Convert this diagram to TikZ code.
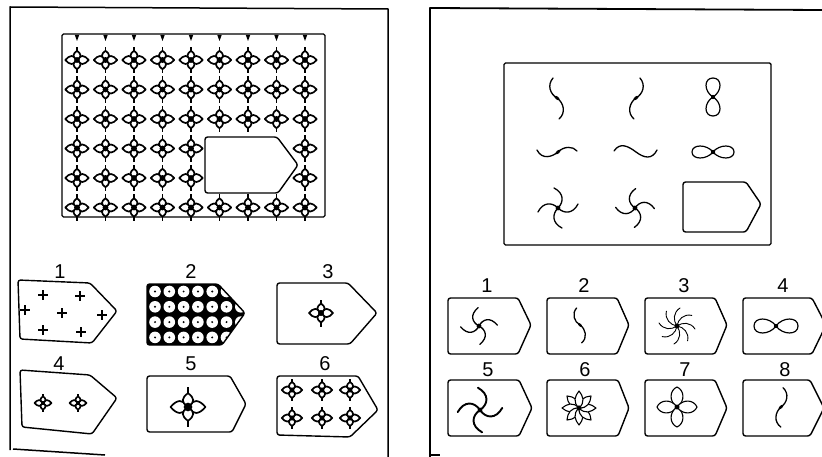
\documentclass[tikz,border=0pt]{standalone}
\usepackage{fontspec}
\setmainfont{Liberation Sans}
\newcommand\fstar[3]{%
\begin{scope}[shift={(#1,#2)},scale=#3]
 \foreach \a in {0,180}{\draw[sln,fill=white,rotate=\a] (0.5,0) .. controls (3,6) and (8,5) .. (12,0) .. controls (8,-5) and (3,-6) .. (0.5,0);}
 \foreach \a in {90,270}{\draw[sln,fill=white,rotate=\a] (0.5,0) .. controls (3,5.2) and (6.5,4.4) .. (9.5,0) .. controls (6.5,-4.4) and (3,-5.2) .. (0.5,0); \draw[line width=1.1pt,rotate=\a] (9.5,0) -- (13.5,0);}
 \fill (0,0) circle (3);
\end{scope}}
% x y n L bulge end rot lw
\newcommand\pinwheel[8]{%
\begin{scope}[shift={(#1,#2)},rotate=#7]
 \foreach \k in {1,...,#3}{\draw[line width=#8,line cap=round,rotate=\k*360/#3] (0,0) .. controls (0.3*#4,#5) and (0.75*#4,#5) .. (#4,#6);}
 \fill (0,0) circle (2.4);
\end{scope}}
% x y xscale scale rotate
\newcommand\scurve[5]{%
\begin{scope}[shift={(#1,#2)},rotate=#5,scale=#4,xscale=#3]
 \draw[line width=1.3pt,line cap=round] (-4,-20) .. controls (-10,-13) and (-7,-4) .. (0,0) .. controls (7,5) and (9,15) .. (2,21);
 \fill[rotate=-38] (0,0) ellipse (3 and 1.5);
\end{scope}}
% x y L h rot
\newcommand\lemn[5]{%
\begin{scope}[shift={(#1,#2)},rotate=#5]
 \foreach \s in {1,-1}{\draw[line width=1.2pt,xscale=\s] (0,0) .. controls (0.3*#3,-1.33*#4) and (#3,-1.33*#4) .. (#3,0) .. controls (#3,1.33*#4) and (0.3*#3,1.33*#4) .. (0,0);}
 \fill (0,0) circle (2.2);
\end{scope}}
% x y n L h rot
\newcommand\flower[6]{%
\begin{scope}[shift={(#1,#2)},rotate=#6]
 \foreach \k in {1,...,#3}{\draw[line width=1.1pt,fill=white,rotate=\k*360/#3] (0,0) .. controls (0.3*#4,-1.33*#5) and (0.85*#4,-1.1*#5) .. (#4,0) .. controls (0.85*#4,1.1*#5) and (0.3*#4,1.33*#5) .. (0,0);}
 \fill (0,0) circle (2.5);
\end{scope}}
% x y n L h rot : pointed petals
\newcommand\pflower[6]{%
\begin{scope}[shift={(#1,#2)},rotate=#6]
 \foreach \k in {1,...,#3}{\draw[line width=1.1pt,line join=round,fill=white,rotate=\k*360/#3] (0,0) .. controls (0.35*#4,-1.4*#5) and (0.7*#4,-0.9*#5) .. (#4,0) .. controls (0.7*#4,0.9*#5) and (0.35*#4,1.4*#5) .. (0,0);}
 \fill (0,0) circle (2.6);
\end{scope}}
\newcommand\plusmark[2]{\draw[line width=1.3pt] (#1-5,#2) -- (#1+5,#2) (#1,#2-5) -- (#1,#2+5);}
\begin{document}
\begin{tikzpicture}[x=1pt,y=-1pt,
  ln/.style={line width=1.4pt,line join=round,line cap=round},
  sln/.style={line width=1.7pt,line join=round,line cap=round},
  frame/.style={line width=1.5pt,line join=round},
  lbl/.style={font=\fontsize{20}{20}\selectfont,inner sep=0pt},
  tagst/.style={ln,rounded corners=2.5pt}]
\useasboundingbox (0,0) rectangle (822,457);
% ---------------- left panel ----------------
\draw[frame] (10,450) -- (10,7) -- (388,9) -- (388,457);
\draw[frame] (13,449) -- (105,455);
\draw[ln,rounded corners=1.5pt] (62,34) rectangle (325,217);
\foreach \i in {0,...,8}{
  \pgfmathsetmacro\xx{77+28.5*\i}
  \fill (\xx-2.2,35) -- (\xx+2.2,35) -- (\xx,41) -- cycle;
  \foreach \j in {0,...,5}{
    \pgfmathsetmacro\yy{60+29.5*\j}
    \pgfmathtruncatemacro\skip{(\i>4)*(\i<8)*(\j>2)*(\j<5)}
    \ifnum\skip=0 \fstar{\xx}{\yy}{0.97}\fi
  }
}
\draw[tagst,fill=white] (205,137) -- (277,137) -- (298,165) -- (278,193) -- (205,193) -- cycle;
% options
\node[lbl] (l1) at (60,272) {1};
\node[lbl] (l2) at (191,272) {2};
\node[lbl] (l3) at (328,272) {3};
\node[lbl] (l4) at (59,364) {4};
\node[lbl] (l5) at (191,364) {5};
\node[lbl] (l6) at (325,364) {6};
\draw[tagst] (18,280) -- (90,283) -- (117,311) -- (92,343) -- (20,339) -- cycle;
\plusmark{43}{295}\plusmark{80}{296}\plusmark{25}{310}\plusmark{62}{313}
\plusmark{102}{315}\plusmark{43}{330}\plusmark{81}{332}
\fill[rounded corners=2.5pt] (147,284) -- (218,284) -- (245,313) -- (222,345) -- (147,345) -- cycle;
\begin{scope}
\clip[rounded corners=2.5pt] (147,284) -- (218,284) -- (245,313) -- (222,345) -- (147,345) -- cycle;
\foreach \i in {0,...,6}{\foreach \j in {0,...,3}{
  \fill[white] (155+14.3*\i,291.5+15.3*\j) circle (5.8);
  \fill (155+14.3*\i,291.5+15.3*\j) circle (1.1);}}
\end{scope}
\draw[tagst] (147,284) -- (218,284) -- (245,313) -- (222,345) -- (147,345) -- cycle;
\draw[tagst] (277,283) -- (348,283) -- (377,313) -- (350,344) -- (277,344) -- cycle;
\fstar{321}{313}{1.0}
\draw[tagst] (20,370) -- (90,375) -- (117,398) -- (92,434) -- (22,427) -- cycle;
\fstar{43}{403}{0.7}\fstar{78}{403}{0.7}
\draw[tagst] (147,376) -- (230,376) -- (246,404) -- (232,432) -- (147,432) -- cycle;
\fstar{188}{407}{1.45}
\begin{scope}
\clip (277,376) -- (358,376) -- (378,410) -- (350,437) -- (277,435) -- cycle;
\foreach \x in {292,322,350}{\foreach \y in {390,418}{\fstar{\x}{\y}{0.85}}}
\end{scope}
\draw[tagst] (277,376) -- (358,376) -- (378,410) -- (350,437) -- (277,435) -- cycle;
% ---------------- right panel ----------------
\draw[frame,line width=1.8pt] (430,457) -- (430,8) -- (822,10);
\draw[frame] (430,455) -- (440,455);
\draw[ln,rounded corners=1.5pt] (504,63) rectangle (771,245);
\scurve{557}{98}{1}{1}{0}
\scurve{636}{98}{-1}{1}{0}
\lemn{713}{97}{19}{7}{90}
\begin{scope}[shift={(558,152)}]
 \draw[line width=1.3pt,line cap=round] (-21,-2) .. controls (-16,8) and (-6,5) .. (0,0) .. controls (6,-6) and (15,-6) .. (19,-1);
 \fill[rotate=42] (0,0) ellipse (3 and 1.5);
\end{scope}
\begin{scope}[shift={(636,152)}]
 \draw[line width=1.3pt,line cap=round] (-22,-1) .. controls (-16,-10) and (-8,-6) .. (0,0) .. controls (8,6) and (16,8) .. (21,-2);
\end{scope}
\lemn{713}{152}{21}{6}{0}
\pinwheel{558}{208}{4}{20}{6}{-4}{0}{1.3pt}
\pinwheel{635}{208}{4}{19}{-6}{4}{10}{1.3pt}
\draw[tagst] (683,182) -- (746,182) -- (761,204) -- (746,232) -- (683,232) -- cycle;
% options
\node[lbl] (r1) at (487,286) {1};
\node[lbl] (r2) at (584,286) {2};
\node[lbl] (r3) at (684,286) {3};
\node[lbl] (r4) at (783,286) {4};
\node[lbl] (r5) at (488,370) {5};
\node[lbl] (r6) at (585,370) {6};
\node[lbl] (r7) at (685,370) {7};
\node[lbl] (r8) at (785,370) {8};
\foreach \l/\c/\p in {448/518/531,547/617/629,645/715/727,743/812/826}{
  \draw[tagst] (\l,298) -- (\c,298) -- (\p,325) -- (\c,354) -- (\l,354) -- cycle;}
\foreach \l/\c/\p in {448/519/532,547/618/629,645/715/727,743/810/824}{
  \draw[tagst] (\l,380) -- (\c,380) -- (\p,408) -- (\c,436) -- (\l,436) -- cycle;}
\pinwheel{479}{326}{4}{18}{-6}{4}{15}{1.3pt}
\scurve{580}{325}{1}{0.85}{0}
\pinwheel{677}{326}{8}{18}{-4}{3}{0}{0.9pt}
\lemn{776}{326}{22}{7}{0}
\pinwheel{480}{410}{4}{22}{8}{-4}{-5}{1.9pt}
\pflower{579}{408}{8}{17}{4.6}{90}
\flower{677}{407}{4}{20}{6.5}{0}
\scurve{781}{407}{-1}{0.95}{5}
\end{tikzpicture}
\end{document}
